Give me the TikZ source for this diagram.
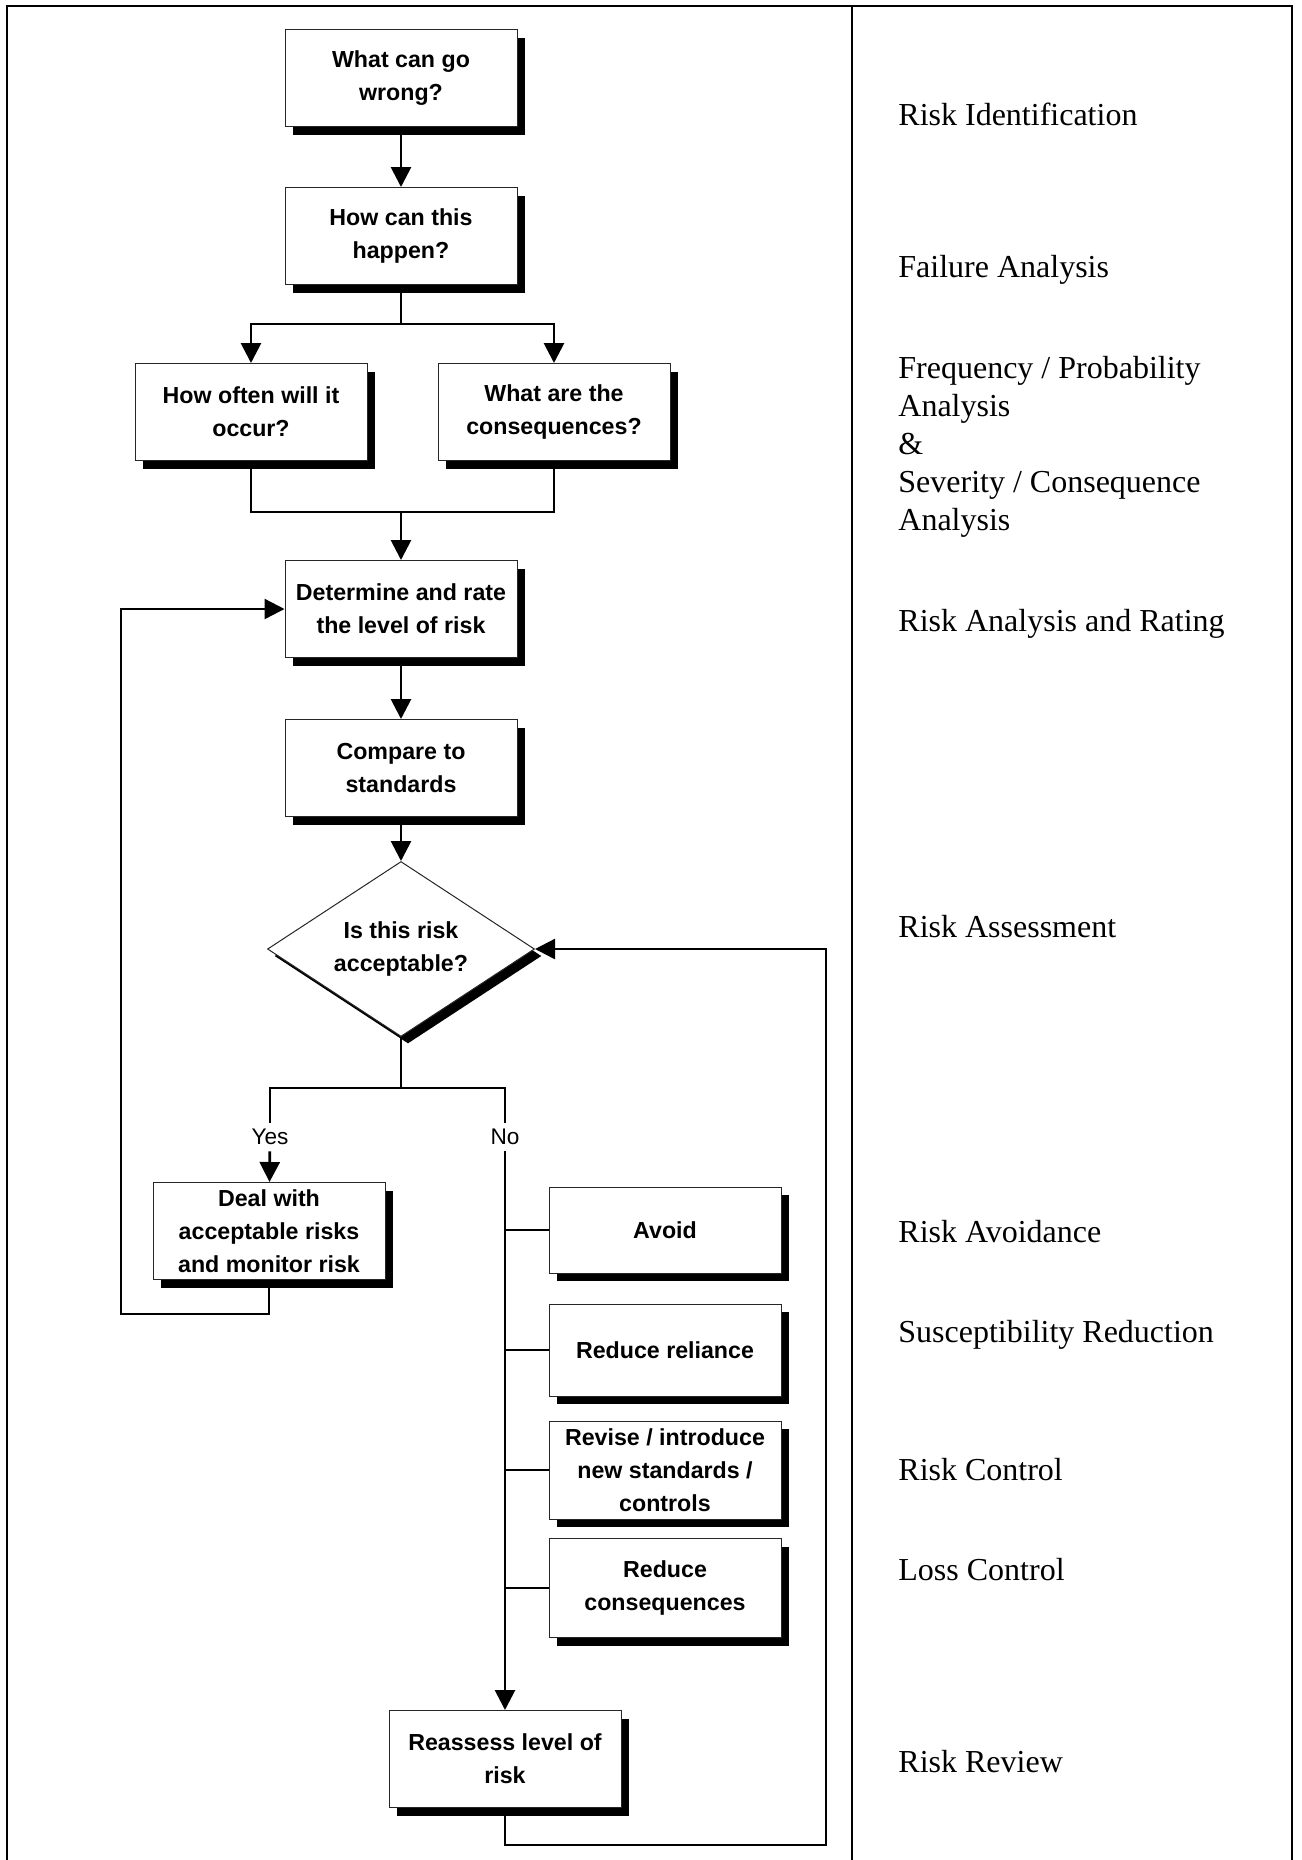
\documentclass[tikz,border=0pt]{standalone}
\usepackage{fontspec}
\setmainfont{Liberation Serif}
\newfontfamily\boxfont{Liberation Sans}
\usetikzlibrary{positioning, shapes.geometric, shadows, arrows.meta}
\tikzset{
x=0.5pt, y=-0.5pt, % one unit is one pixel of the page, y runs downwards
>={Triangle[length=10pt, width=10pt]}, % solid arrow heads
node distance=79pt, % centre to centre distance of two boxes in a column
flow/.style={line width=1.4pt}, % the connectors between the steps
tie/.style={line width=0.7pt}, % short ties from the No line to the options
backline/.style={line width=1.2pt}, % the two lines that lead back up
plain/.style={draw=black!85, line width=0.5pt, fill=white, align=center, font=\boxfont\bfseries\fontsize{11.6}{16.5}\selectfont},
box/.style={plain, rectangle, minimum width=116pt, minimum height=48.5pt, inner sep=2pt, drop shadow={shadow xshift=4pt, shadow yshift=-4pt, fill=black, opacity=1}}, % every step of the process
decision/.style={plain, diamond, aspect=1.5, minimum width=133.5pt, minimum height=87.5pt, inner sep=0pt, drop shadow={shadow xshift=3.5pt, shadow yshift=-3.5pt, fill=black, opacity=1}},
answer/.style={font=\boxfont\fontsize{11.3}{14}\selectfont, inner sep=3pt}, % Yes and No
stage/.style={anchor=west, align=left, inner sep=0pt, font=\fontsize{16}{19}\selectfont}, % names in the right column
}

\begin{document}
\begin{tikzpicture}
\useasboundingbox (0,0) rectangle (1302,1860);
% frame and column divider
\draw[line width=1pt] (7,1860) -- (7,6) -- (1292,6) -- (1292,1860);
\draw[line width=0.6pt] (852,6) -- (852,1860);

\node[box] (s1) at (401,78) {What can go\\wrong?};
\node[box, below of=s1] (s2) {How can this\\happen?};
\node[box, node distance=88pt, below of=s2, xshift=-75pt] (s3) {How often will it\\occur?};
\node[box, node distance=151.5pt, right of=s3] (s4) {What are the\\consequences?};
\node[box, node distance=186.5pt, below of=s2] (s5) {Determine and rate\\the level of risk};
\node[box, node distance=79.5pt, below of=s5] (s6) {Compare to\\standards};
\node[decision, node distance=90.5pt, below of=s6] (s7) {Is this risk\\acceptable?};
\node[box, node distance=141pt, below of=s7, xshift=-66pt] (s8) {Deal with\\acceptable risks\\and monitor risk};
\node[box, minimum height=43pt] (s9) at (665,1230) {Avoid};
\node[box, minimum height=46pt] (s10) at (665,1350) {Reduce reliance};
\node[box, minimum height=49pt] (s11) at (665,1470) {Revise / introduce\\new standards /\\controls};
\node[box, minimum height=49.5pt] (s12) at (665,1588) {Reduce\\consequences};
\node[box] (s13) at (505,1759) {Reassess level of\\risk};

\node[answer] (yes) at (270,1137) {Yes};
\node[answer] (no) at (505,1137) {No};

\coordinate (j1) at (401,324);
\coordinate (j2) at (401,512);
\coordinate (j3) at (401,1088);
\coordinate (k1) at (121,1314);
\coordinate (k2) at (826,1845);

\draw[flow, ->] (s1) -- (s2);
\draw[flow, ->] (s2) -- (j1) -| (s3);
\draw[flow, ->] (j1) -| (s4);
\draw[flow] (s3) |- (j2) -| (s4);
\draw[flow, ->] (j2) -- (s5);
\draw[flow, ->] (s5) -- (s6);
\draw[flow, ->] (s6) -- (s7);
\draw[flow] (s7) -- (j3) -| (yes);
\draw[flow] (j3) -| (no);
\draw[flow, ->] (yes) -- (s8);
\draw[flow, ->] (no) -- (s13);
\draw[tie] (no |- s9) -- (s9);
\draw[tie] (no |- s10) -- (s10);
\draw[tie] (no |- s11) -- (s11);
\draw[tie] (no |- s12) -- (s12);
\draw[backline, ->] (s8) |- (k1) |- (s5);
\draw[backline, ->] (s13) |- (k2) |- (s7);

% stages of the process
\node[stage] (l1) at (898,114) {Risk Identification};
\node[stage] (l2) at (898,270) {Failure Analysis};
\node[stage] (l3) at (898,447) {Frequency / Probability\\Analysis\\\&\\Severity / Consequence\\Analysis};
\node[stage] (l4) at (898,624) {Risk Analysis and Rating};
\node[stage] (l5) at (898,927) {Risk Assessment};
\node[stage] (l6) at (898,1232) {Risk Avoidance};
\node[stage] (l7) at (898,1335) {Susceptibility Reduction};
\node[stage] (l8) at (898,1470) {Risk Control};
\node[stage] (l9) at (898,1570) {Loss Control};
\node[stage] (l10) at (898,1762) {Risk Review};
\end{tikzpicture}
\end{document}
